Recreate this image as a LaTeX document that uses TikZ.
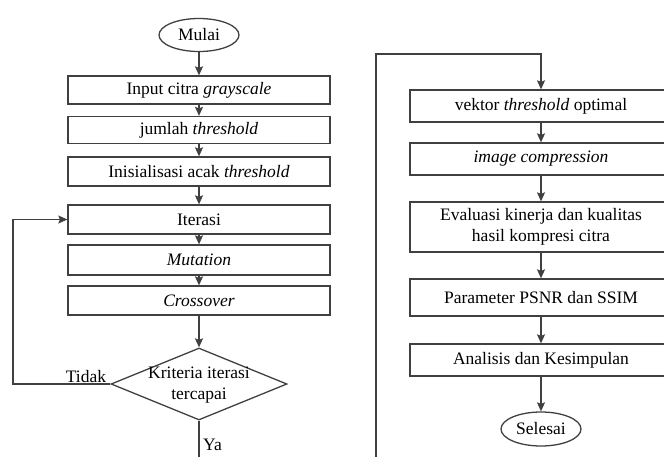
\documentclass[tikz,border=0pt]{standalone}
\usepackage{fontspec}
\setmainfont{Liberation Serif}
\usetikzlibrary{shapes.geometric,arrows.meta}
\begin{document}
\begin{tikzpicture}[x=1pt,y=-1pt,
  font=\fontsize{17.5}{21}\selectfont,
  line/.style={draw=black!75, line width=1.3pt},
  arr/.style={line, -{Stealth[length=9pt,width=8pt,inset=1.5pt]}},
  box/.style={line, rectangle, minimum width=262pt, inner sep=0pt, align=center},
  term/.style={line, ellipse, minimum width=80pt, minimum height=33pt, inner sep=0pt},
  lbl/.style={inner sep=0pt, align=center}]
\useasboundingbox (0,0) rectangle (664,456);
\clip (0,0) rectangle (664,456);
% left column
\node[term] (mulai) at (199,35) {Mulai};
\node[box, minimum height=28pt] (input) at (199,90) {Input citra \textit{grayscale}};
\node[box, minimum height=27pt] (jumlah) at (199,130) {jumlah \textit{threshold}};
\node[box, minimum height=29pt] (init) at (199,171.5) {Inisialisasi acak \textit{threshold}};
\node[box, minimum height=29pt] (iter) at (199,219.5) {Iterasi};
\node[box, minimum height=30pt] (mut) at (199,260) {\textit{Mutation}};
\node[box, minimum height=29pt] (cross) at (199,300.5) {\textit{Crossover}};
\node[line, diamond, minimum width=176pt, minimum height=72pt, inner sep=0pt] (dec) at (199,384) {};
\node[lbl] (dect) at (199,385) {Kriteria iterasi\\tercapai};
\coordinate (lp) at (13,384);
\coordinate (yend) at (199,470);
\node[lbl, anchor=south] (tidak) at (86,383) {Tidak};
\node[lbl, anchor=west] (ya) at (203,445) {Ya};
% right column
\node[box, minimum height=32pt] (vek) at (541,106) {vektor \textit{threshold} optimal};
\node[box, minimum height=32pt] (img) at (541,159) {\textit{image compression}};
\node[box, minimum height=50pt] (eval) at (541,227) {Evaluasi kinerja dan kualitas\\hasil kompresi citra};
\node[box, minimum height=37pt] (param) at (541,297.5) {Parameter PSNR dan SSIM};
\node[box, minimum height=32pt] (anal) at (541,360) {Analisis dan Kesimpulan};
\node[term, minimum height=34pt] (selesai) at (541,429) {Selesai};
\coordinate (rb) at (376,470);
\coordinate (rt) at (376,54);
% connectors
\draw[arr] (mulai) -- (input);
\draw[arr] (input) -- (jumlah);
\draw[arr] (jumlah) -- (init);
\draw[arr] (init) -- (iter);
\draw[arr] (iter) -- (mut);
\draw[arr] (mut) -- (cross);
\draw[arr] (cross) -- (dec.north);
\draw[arr] (dec.west) -- (lp) |- (iter.west);
\draw[line] (dec.south) -- (yend);
\draw[arr] (rb) -- (rt) -| (vek.north);
\draw[arr] (vek) -- (img);
\draw[arr] (img) -- (eval);
\draw[arr] (eval) -- (param);
\draw[arr] (param) -- (anal);
\draw[arr] (anal) -- (selesai);
\end{tikzpicture}
\end{document}
